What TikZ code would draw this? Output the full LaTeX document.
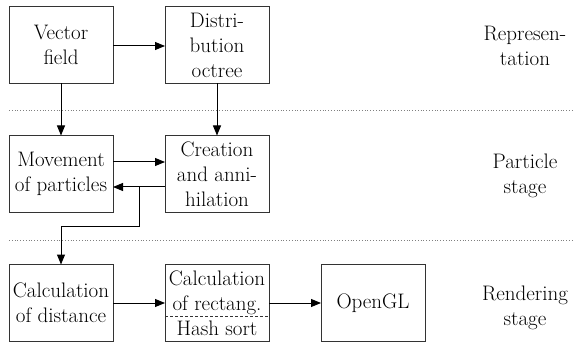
\documentclass[tikz,border=0pt]{standalone}
\usetikzlibrary{arrows.meta}
\usetikzlibrary{calc}
\usetikzlibrary{positioning}

\begin{document}
\begin{tikzpicture}[
          x = 1pt, y = -1pt, font = \fontsize{21}{25}\selectfont,
          node distance = 52pt and 52pt,
          stepbox/.style = {
            draw = black!80, line width = 1pt, align = center,
            inner sep = 0pt, outer sep = 0pt,
            minimum width = 104pt, minimum height = 77pt,
          },
        ]
        \useasboundingbox (0,0) rectangle (574,345);

        \node[stepbox] (vec) at (61,45) {Vector\\field};
        \node[stepbox, right = of vec] (oct) {Distri-\\bution\\octree};

        \node[stepbox, below = of vec] (mov) {Movement\\of particles};
        \node[stepbox, right = of mov] (cre) {Creation\\and anni-\\hilation};

        \node[stepbox, below = of mov]  (dist) {Calculation\\of distance};
        \node[stepbox, right = of dist] (rect) {Calculation\\of rectang.\\Hash sort};
        \node[stepbox, right = of rect] (gl)   {OpenGL};

        % stage borders
        \begin{scope}[gray, dotted, line width = .8pt]
          \draw (9,110) -- (574,110);
          \draw (9,240) -- (574,240);
        \end{scope}

        \draw[black!80, dash pattern = on 3pt off 2pt]
          ([yshift=-13pt]rect.west) -- ([yshift=-13pt]rect.east);

        \begin{scope}[line width = 1pt, -{Triangle[length = 10pt, width = 8pt]}]
          \draw ([yshift=-1pt]vec.east) -- ([yshift=-1pt]oct.west);
          \draw (vec) -- (mov);
          \draw (oct) -- (cre);

          \draw ([yshift=12pt]mov.east) -- ([yshift=12pt]cre.west);
          \draw ([yshift=-13pt]cre.west) -- ([yshift=-13pt]mov.east);
          \draw ($([yshift=-13pt]cre.west)!.5!([yshift=-13pt]mov.east)$)
            -- ++(0,39) -| (dist);

          \draw (dist) -- (rect);
          \draw (rect) -- (gl);
        \end{scope}

        \node[align = center] (repr) at (525,46)  {Represen-\\tation};
        \node[align = center] (part) at (525,176) {Particle\\stage};
        \node[align = center] (rend) at (525,308) {Rendering\\stage};
      \end{tikzpicture}
\end{document}
